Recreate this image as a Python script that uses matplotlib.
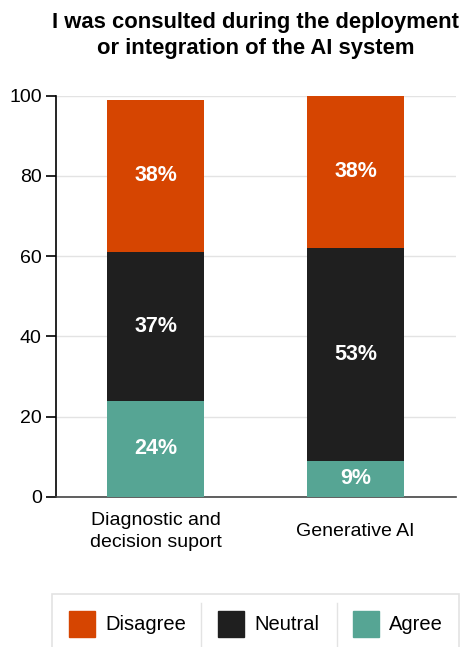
import numpy as np
import matplotlib.pyplot as plt
from matplotlib.patches import Rectangle
from matplotlib.lines import Line2D

plt.rcParams['font.family'] = ['Liberation Sans', 'DejaVu Sans']

# categories and shares (%)
categories = ['Diagnostic and\ndecision suport', 'Generative AI']
agree = [24, 9]
neutral = [37, 53]
disagree = [38, 38]
legend_labels = ['Disagree', 'Neutral', 'Agree']

c_dis = '#D64501'
c_neu = '#1F1F1F'
c_agr = '#56A594'

W, H = 463, 647
fig = plt.figure(figsize=(W / 100, H / 100), dpi=100)
ax = fig.add_axes([0.12, 0.232, 0.864, 0.62])

x = np.arange(len(categories))
w = 0.485
b1 = ax.bar(x, agree, w, color=c_agr, zorder=3)
b2 = ax.bar(x, neutral, w, bottom=agree, color=c_neu, zorder=3)
bot3 = np.array(agree) + np.array(neutral)
b3 = ax.bar(x, disagree, w, bottom=bot3, color=c_dis, zorder=3)

for bars, vals in [(b1, agree), (b2, neutral), (b3, disagree)]:
    ax.bar_label(bars, labels=[f'{v}%' for v in vals], label_type='center',
                 color='white', fontsize=15.5, fontweight='bold')

ax.set_xlim(-0.5, 1.5)
ax.set_ylim(0, 100)
ax.set_yticks([0, 20, 40, 60, 80, 100])
ax.set_xticks(x)
ax.set_xticklabels(categories, fontsize=14, linespacing=1.35)
ax.tick_params(axis='y', labelsize=14, length=7, width=1.2, pad=3)
ax.tick_params(axis='x', length=0, pad=25)
for lbl in ax.get_xticklabels():
    lbl.set_verticalalignment('center')
ax.yaxis.grid(True, color='#E3E3E3', lw=1, zorder=0)
for s in ['top', 'right']:
    ax.spines[s].set_visible(False)
ax.spines['left'].set_linewidth(1.2)
ax.spines['bottom'].set_linewidth(1.2)
ax.spines['bottom'].set_color('#444444')

fig.text(256 / W, 1 - 12 / H, 'I was consulted during the deployment\nor integration of the AI system',
         ha='center', va='top', fontsize=15.8, fontweight='bold', linespacing=1.32)

# legend box drawn by hand, with dividers between the entries
fig.add_artist(Rectangle((52 / W, -0.01), 407 / W, (H - 594) / H + 0.01,
                         transform=fig.transFigure, fill=False,
                         edgecolor='#E3E3E3', lw=1.2))
for xs in [201, 337]:
    fig.add_artist(Line2D([xs / W, xs / W], [0, (H - 603) / H],
                          color='#E3E3E3', lw=1))
for px, lab, col in zip([69, 218, 353], legend_labels, [c_dis, c_neu, c_agr]):
    fig.add_artist(Rectangle((px / W, (H - 637) / H), 26 / W, 26 / H,
                             transform=fig.transFigure, color=col))
    fig.text((px + 36) / W, (H - 624) / H, lab, ha='left', va='center',
             fontsize=14.5)

fig.savefig('out.png', dpi=100)
